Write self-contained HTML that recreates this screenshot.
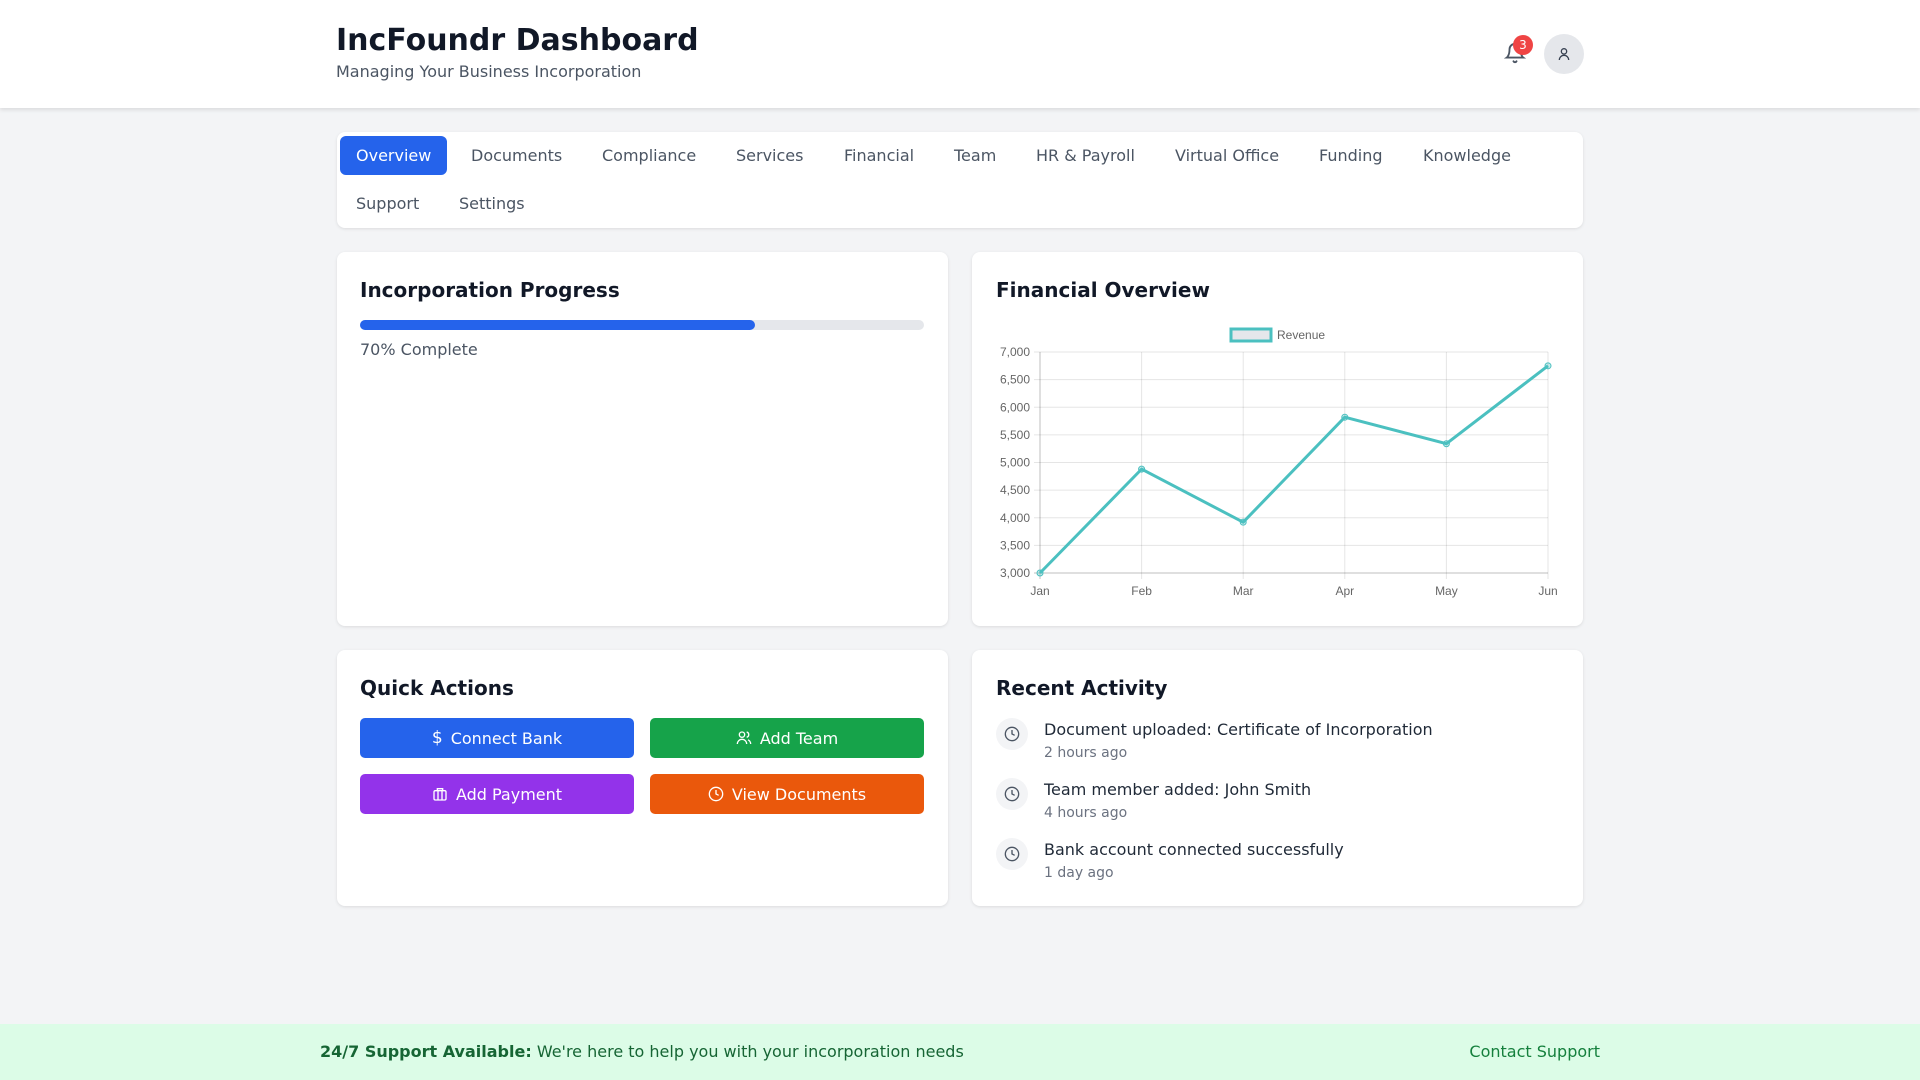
<!DOCTYPE html>
<html><head><meta charset="utf-8"><style>
*{box-sizing:border-box;margin:0;padding:0}
body{width:1920px;height:1080px;background:#f3f4f6;font-family:"DejaVu Sans","Liberation Sans",sans-serif;position:relative;overflow:hidden;color:#111827}
.abs{position:absolute}
header{position:absolute;left:0;top:0;width:1920px;height:108px;background:#fff;box-shadow:0 2px 4px rgba(0,0,0,.1)}
.card{position:absolute;background:#fff;border-radius:8px;box-shadow:0 1px 3px rgba(0,0,0,.1)}
.tab{position:absolute;height:39px;line-height:39px;font-size:16px;color:#4b5563;padding:0 16px;border-radius:6px}
.tab.active{background:#2563eb;color:#fff}
h2{position:absolute;font-size:20px;font-weight:bold;color:#111827}
.btn{position:absolute;width:274px;height:40px;border-radius:5px;color:#fff;font-size:16px;display:flex;align-items:center;justify-content:center;gap:8px}
.act-icon{position:absolute;width:32px;height:32px;border-radius:50%;background:#f3f4f6;display:flex;align-items:center;justify-content:center}
.act-t{position:absolute;font-size:16px;color:#1f2937;white-space:nowrap}
.act-s{position:absolute;font-size:14px;color:#6b7280;white-space:nowrap}
</style></head><body>
<header>
<div class="abs" style="left:336px;top:23px;font-size:30px;font-weight:bold;color:#111827">IncFoundr Dashboard</div>
<div class="abs" style="left:336px;top:62px;font-size:16px;color:#4b5563">Managing Your Business Incorporation</div>
<div class="abs" style="left:1504px;top:42px;width:22px;height:22px">
<svg width="22" height="22" viewBox="0 0 24 24" fill="none" stroke="#4b5563" stroke-width="2" stroke-linecap="round"><path d="M6 8a6 6 0 0 1 12 0c0 7 3 9 3 9H3s3-2 3-9"/><path d="M10.3 21a1.94 1.94 0 0 0 3.4 0"/></svg>
<div class="abs" style="left:9px;top:-7px;width:20px;height:20px;border-radius:50%;background:#ef4444;color:#fff;font-size:12px;text-align:center;line-height:20px">3</div>
</div>
<div class="abs" style="left:1544px;top:34px;width:40px;height:40px;border-radius:50%;background:#e5e7eb;display:flex;align-items:center;justify-content:center">
<svg width="16" height="16" viewBox="0 0 24 24" fill="none" stroke="#374151" stroke-width="2"><circle cx="12" cy="8" r="4"/><path d="M5 21a7 7 0 0 1 14 0"/></svg></div>
</header>

<div class="card" style="left:337px;top:132px;width:1246px;height:96px">
<div class="tab active" style="left:3px;top:4px">Overview</div>
<div class="tab" style="left:118px;top:4px">Documents</div>
<div class="tab" style="left:249px;top:4px">Compliance</div>
<div class="tab" style="left:383px;top:4px">Services</div>
<div class="tab" style="left:491px;top:4px">Financial</div>
<div class="tab" style="left:601px;top:4px">Team</div>
<div class="tab" style="left:683px;top:4px">HR &amp; Payroll</div>
<div class="tab" style="left:822px;top:4px">Virtual Office</div>
<div class="tab" style="left:966px;top:4px">Funding</div>
<div class="tab" style="left:1070px;top:4px">Knowledge</div>
<div class="tab" style="left:3px;top:52px">Support</div>
<div class="tab" style="left:106px;top:52px">Settings</div>
</div>

<div class="card" style="left:337px;top:252px;width:611px;height:374px">
<h2 style="left:23px;top:26px">Incorporation Progress</h2>
<div class="abs" style="left:23px;top:68px;width:564px;height:10px;background:#e5e7eb;border-radius:5px">
<div style="width:70%;height:10px;background:#2563eb;border-radius:5px"></div></div>
<div class="abs" style="left:23px;top:88px;font-size:16px;color:#4b5563">70% Complete</div>
</div>

<div class="card" style="left:972px;top:252px;width:611px;height:374px">
<h2 style="left:24px;top:26px">Financial Overview</h2>
</div>
<svg id="chart" class="abs" style="left:972px;top:252px" width="611" height="374"></svg>

<div class="card" style="left:337px;top:650px;width:611px;height:256px">
<h2 style="left:23px;top:26px">Quick Actions</h2>
<div class="btn" style="left:23px;top:68px;background:#2563eb"><span style="font-size:17px">$</span><span>Connect Bank</span></div>
<div class="btn" style="left:313px;top:68px;background:#16a34a"><svg width="16" height="16" viewBox="0 0 24 24" fill="none" stroke="#fff" stroke-width="2"><circle cx="9" cy="7" r="4"/><path d="M2 21a7 7 0 0 1 14 0M16 3.1a4 4 0 0 1 0 7.8M22 21a7 7 0 0 0-4-6.3"/></svg><span>Add Team</span></div>
<div class="btn" style="left:23px;top:124px;background:#9333ea"><svg width="16" height="16" viewBox="0 0 24 24" fill="none" stroke="#fff" stroke-width="2"><rect x="3" y="7" width="18" height="14" rx="2"/><path d="M8 7V4h8v3M9 7v14M15 7v14"/></svg><span>Add Payment</span></div>
<div class="btn" style="left:313px;top:124px;background:#ea580c"><svg width="16" height="16" viewBox="0 0 24 24" fill="none" stroke="#fff" stroke-width="2"><circle cx="12" cy="12" r="10"/><path d="M12 6v6l4 2"/></svg><span>View Documents</span></div>
</div>

<div class="card" style="left:972px;top:650px;width:611px;height:256px">
<h2 style="left:24px;top:26px">Recent Activity</h2>
<div class="act-icon" style="left:24px;top:68px"><svg width="16" height="16" viewBox="0 0 24 24" fill="none" stroke="#4b5563" stroke-width="2"><circle cx="12" cy="12" r="10"/><path d="M12 6v6l4 2"/></svg></div>
<div class="act-t" style="left:72px;top:70px">Document uploaded: Certificate of Incorporation</div>
<div class="act-s" style="left:72px;top:95px">2 hours ago</div>
<div class="act-icon" style="left:24px;top:128px"><svg width="16" height="16" viewBox="0 0 24 24" fill="none" stroke="#4b5563" stroke-width="2"><circle cx="12" cy="12" r="10"/><path d="M12 6v6l4 2"/></svg></div>
<div class="act-t" style="left:72px;top:130px">Team member added: John Smith</div>
<div class="act-s" style="left:72px;top:155px">4 hours ago</div>
<div class="act-icon" style="left:24px;top:188px"><svg width="16" height="16" viewBox="0 0 24 24" fill="none" stroke="#4b5563" stroke-width="2"><circle cx="12" cy="12" r="10"/><path d="M12 6v6l4 2"/></svg></div>
<div class="act-t" style="left:72px;top:190px">Bank account connected successfully</div>
<div class="act-s" style="left:72px;top:215px">1 day ago</div>
</div>

<div class="abs" style="left:0;top:1024px;width:1920px;height:56px;background:#dcfce7">
<div class="abs" style="left:320px;top:18px;font-size:16px;color:#166534;white-space:nowrap"><b>24/7 Support Available:</b> We're here to help you with your incorporation needs</div>
<div class="abs" style="right:320px;top:18px;font-size:16px;color:#15803d">Contact Support</div>
</div>

<script>
const months = ["Jan","Feb","Mar","Apr","May","Jun"];
const revenue = [3000, 4880, 3920, 5820, 5340, 6750];
const yTicks = [3000,3500,4000,4500,5000,5500,6000,6500,7000];
const yMin = 3000, yMax = 7000;
const NS = "http://www.w3.org/2000/svg";
const svg = document.getElementById('chart');
const L = 68, R = 576, T = 100, B = 321;
const xs = i => L + i * (R - L) / (months.length - 1);
const ys = v => B - (v - yMin) / (yMax - yMin) * (B - T);
function mk(tag, attrs){const e=document.createElementNS(NS,tag);for(const k in attrs)e.setAttribute(k,attrs[k]);svg.appendChild(e);return e;}
yTicks.forEach(v=>{
  const g = mk('line',{x1:L-6,x2:R,y1:ys(v),y2:ys(v),stroke:v===yMin?'rgba(0,0,0,0.25)':'rgba(0,0,0,0.1)','stroke-width':1});
  
  
  const t = mk('text',{x:L-10,y:ys(v)+4,'text-anchor':'end','font-size':12,fill:'#666','font-family':'Liberation Sans, sans-serif'});
  t.textContent = v.toLocaleString('en-US');
  
  
});
months.forEach((m,i)=>{
  const g = mk('line',{x1:xs(i),x2:xs(i),y1:T,y2:B+6,stroke:i===0?'rgba(0,0,0,0.25)':'rgba(0,0,0,0.1)','stroke-width':1});
  
  
  const t = mk('text',{x:xs(i),y:B+22,'text-anchor':'middle','font-size':12,fill:'#666','font-family':'Liberation Sans, sans-serif'});
  t.textContent = m;
  
  
});
const line = mk('polyline',{points:revenue.map((v,i)=>xs(i)+','+ys(v)).join(' '),fill:'none',stroke:'rgb(75,192,192)','stroke-width':3,'stroke-linejoin':'round'});


revenue.forEach((v,i)=>{
  const c = mk('circle',{cx:xs(i),cy:ys(v),r:3,fill:'rgba(75,192,192,0.3)',stroke:'rgb(75,192,192)','stroke-width':1});
  
  
});
const lb = mk('rect',{x:259,y:77,width:40,height:12,fill:'#e5e7eb',stroke:'rgb(75,192,192)','stroke-width':3});


const lt = mk('text',{x:305,y:87,'font-size':12,fill:'#666','font-family':'Liberation Sans, sans-serif'});
lt.textContent = 'Revenue';


</script>
</body></html>
